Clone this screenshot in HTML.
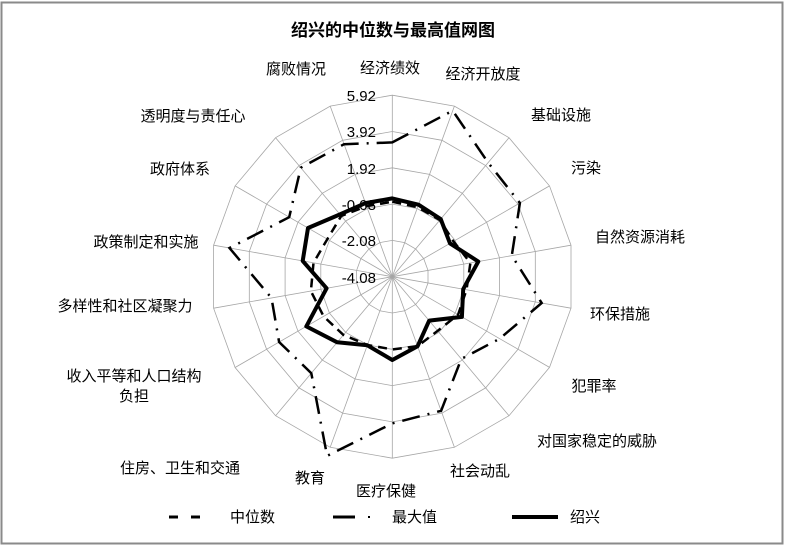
<!DOCTYPE html>
<html><head><meta charset="utf-8"><style>
html,body{margin:0;padding:0;background:#fff;}
svg{display:block;}
text{font-family:"Liberation Sans","Noto Sans CJK SC",sans-serif;font-size:15px;fill:#000;}
</style></head><body>
<svg id="s" width="785" height="546" viewBox="0 0 785 546" xmlns="http://www.w3.org/2000/svg">
<rect x="1.5" y="2.5" width="781" height="541" fill="#fff" stroke="#8a8a8a" stroke-width="2"/>
<text x="393" y="36" text-anchor="middle" style="font-size:17px;font-weight:bold">绍兴的中位数与最高值网图</text>
<g id="grid" stroke="#a6a6a6" stroke-width="0.8" fill="none"></g>
<g id="data"></g>
<g text-anchor="middle">
<text x="390" y="73">经济绩效</text>
<text x="483" y="79">经济开放度</text>
<text x="561" y="120">基础设施</text>
<text x="586" y="173">污染</text>
<text x="640" y="242">自然资源消耗</text>
<text x="620" y="319">环保措施</text>
<text x="594" y="391">犯罪率</text>
<text x="597" y="446">对国家稳定的威胁</text>
<text x="480" y="476">社会动乱</text>
<text x="386" y="496">医疗保健</text>
<text x="310" y="483">教育</text>
<text x="180" y="473">住房、卫生和交通</text>
<text x="134" y="381">收入平等和人口结构</text>
<text x="134" y="401">负担</text>
<text x="125" y="311">多样性和社区凝聚力</text>
<text x="146" y="247">政策制定和实施</text>
<text x="180" y="174">政府体系</text>
<text x="193" y="121">透明度与责任心</text>
<text x="296" y="74">腐败情况</text>
</g>
<g text-anchor="end" style="font-size:14px">
<text x="376" y="101">5.92</text>
<text x="376" y="137">3.92</text>
<text x="376" y="174">1.92</text>
<text x="376" y="210">-0.08</text>
<text x="376" y="246">-2.08</text>
<text x="376" y="283">-4.08</text>
</g>
<line x1="169" y1="517" x2="178" y2="517" stroke="#000" stroke-width="3"/>
<line x1="191" y1="517" x2="200" y2="517" stroke="#000" stroke-width="3"/>
<text x="230" y="522">中位数</text>
<line x1="333" y1="517" x2="355" y2="517" stroke="#000" stroke-width="3"/>
<rect x="368" y="516" width="2" height="2" fill="#000"/>
<text x="392" y="522">最大值</text>
<line x1="512" y1="517" x2="558" y2="517" stroke="#000" stroke-width="4"/>
<text x="570" y="522">绍兴</text>
</svg>
<script>
var cx=392.3,cy=276.7;
function pt(k,r){var a=k*20*Math.PI/180;return [(cx+Math.sin(a)*r).toFixed(1),(cy-Math.cos(a)*r).toFixed(1)];}
var g=document.getElementById('grid'),s='';
for(var i=1;i<=5;i++){var p=[];for(var k=0;k<18;k++)p.push(pt(k,i*36.3).join(','));s+='<polygon points="'+p.join(' ')+'"/>';}
for(var k=0;k<18;k++){var e=pt(k,181.5);s+='<line x1="'+cx+'" y1="'+cy+'" x2="'+e[0]+'" y2="'+e[1]+'"/>';}
g.innerHTML=s;
var sol=[235,230,226,200,262,216,241,172,222,250,219,257,298,200,273,292,244,235];
var med=[225,222,222,212,238,226,228,212,222,218,218,228,238,248,240,225,238,225];
var mx=[403,530,447,442,364,455,372,322,428,440,572,378,392,368,496,357,427,423];
function poly(a,st){var p=[];for(var k=0;k<18;k++)p.push(pt(k,a[k]/3).join(','));return '<polygon points="'+p.join(' ')+'" fill="none" stroke="#000" '+st+'/>';}
document.getElementById('data').innerHTML=
poly(med,'stroke-width="2.5" stroke-dasharray="9,6"')+
poly(mx,'stroke-width="2.5" stroke-dasharray="18,8,2,8"')+
poly(sol,'stroke-width="4" stroke-linejoin="round"');
</script>
</body></html>
